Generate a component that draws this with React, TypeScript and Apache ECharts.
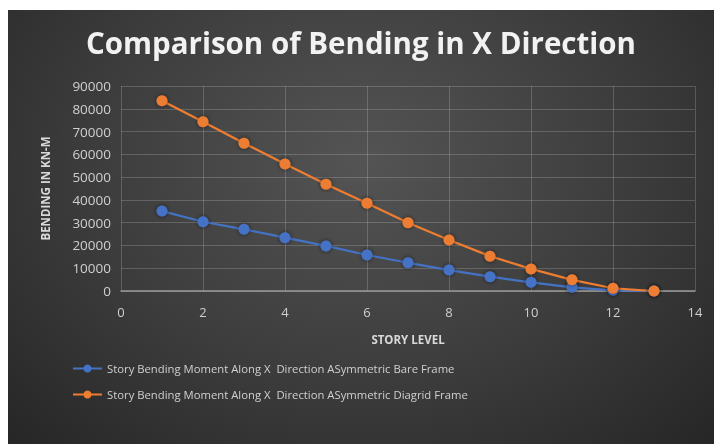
import React, { useEffect, useRef } from "react";
import * as echarts from "echarts";

const storyLevels = [1, 2, 3, 4, 5, 6, 7, 8, 9, 10, 11, 12, 13];
const bareFrame = [35100, 30400, 27100, 23400, 19800, 15800, 12400, 9200, 6300, 3800, 1600, 300, 0];
const diagridFrame = [83500, 74300, 64900, 55800, 46900, 38500, 30000, 22400, 15300, 9700, 4900, 1200, 0];
const seriesNames = [
  "Story Bending Moment Along X  Direction ASymmetric Bare Frame",
  "Story Bending Moment Along X  Direction ASymmetric Diagrid Frame",
];
const titleText = "Comparison of Bending in X Direction";
const xAxisTitle = "STORY LEVEL";
const yAxisTitle = "BENDING IN KN-M";

export default function App() {
  const ref = useRef<HTMLDivElement>(null);
  useEffect(() => {
    if (!ref.current) return;
    const chart = echarts.init(ref.current, undefined, { renderer: "svg" });
    const font = "'Open Sans', sans-serif";
    const mk = (name: string, vals: number[], color: string) => ({
      name,
      type: "line",
      data: storyLevels.map((x, i) => [x, vals[i]]),
      symbol: "circle",
      symbolSize: 11,
      lineStyle: { color, width: 2.25 },
      itemStyle: { color, shadowColor: "rgba(0,0,0,0.6)", shadowBlur: 4 },
    });
    chart.setOption({
      animation: false,
      backgroundColor: "transparent",
      title: {
        text: titleText,
        left: "center",
        top: 12,
        textStyle: { color: "#f2f2f2", fontSize: 29.5, fontWeight: "bold", fontFamily: font },
      },
      grid: { left: 113, top: 76, width: 574, height: 205, containLabel: false },
      legend: {
        orient: "vertical",
        left: 59,
        top: 348,
        itemGap: 15,
        itemWidth: 29,
        itemHeight: 10,
        textStyle: { color: "#d0d0d0", fontSize: 11.3, fontFamily: font },
        data: seriesNames,
      },
      xAxis: {
        type: "value",
        min: 0,
        max: 14,
        interval: 2,
        name: xAxisTitle,
        nameLocation: "middle",
        nameGap: 42,
        nameTextStyle: { color: "#d9d9d9", fontSize: 11.5, fontWeight: "bold", fontFamily: font },
        axisLine: { show: true, lineStyle: { color: "#9a9a9a", width: 1.5 } },
        axisTick: { show: false },
        axisLabel: { color: "#cfcfcf", fontSize: 13, fontFamily: font, margin: 14 },
        splitLine: { show: true, lineStyle: { color: "rgba(255,255,255,0.18)", width: 1 } },
      },
      yAxis: {
        type: "value",
        min: 0,
        max: 90000,
        interval: 10000,
        name: yAxisTitle,
        nameLocation: "middle",
        nameGap: 70,
        nameTextStyle: { color: "#d9d9d9", fontSize: 11.5, fontWeight: "bold", fontFamily: font },
        axisLine: { show: false },
        axisTick: { show: false },
        axisLabel: {
          color: "#cfcfcf",
          fontSize: 13.5,
          fontFamily: font,
          margin: 10,
          formatter: (v: number) => String(v),
        },
        splitLine: { show: true, lineStyle: { color: "rgba(255,255,255,0.18)", width: 1 } },
      },
      series: [mk(seriesNames[0], bareFrame, "#4472c4"), mk(seriesNames[1], diagridFrame, "#ed7d31")],
    });
    return () => chart.dispose();
  }, []);
  return (
    <div
      ref={ref}
      style={{
        position: "fixed",
        left: 8,
        top: 10,
        width: 706,
        height: 434,
        background: "radial-gradient(ellipse at 50% 35%, #545454 0%, #3c3c3c 55%, #262626 100%)",
      }}
    />
  );
}
